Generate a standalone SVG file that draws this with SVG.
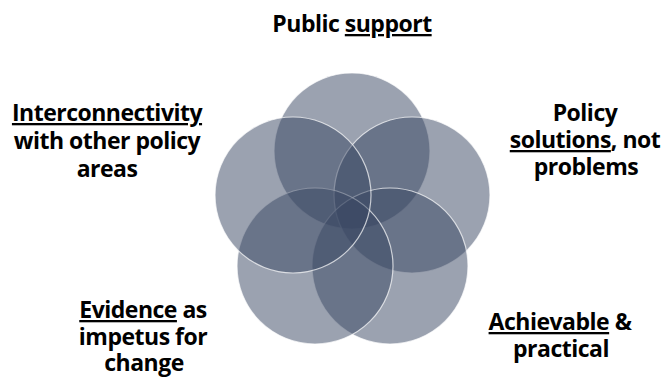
<svg xmlns="http://www.w3.org/2000/svg" width="665" height="378" viewBox="0 0 665 378">
  <style>
    .ring { fill: #374561; fill-opacity: 0.5; stroke: #ffffff; stroke-opacity: 0.7; stroke-width: 1.2; }
    .label { font-family: "Open Sans", "Noto Sans", "Liberation Sans", sans-serif; font-weight: bold; font-size: 23px; letter-spacing: -0.5px; fill: #000000; text-anchor: middle; }
    .u { text-decoration: underline; }
  </style>
  <rect width="665" height="378" fill="#ffffff"/>

  <!-- five overlapping circles arranged as a pentagon -->
  <g id="circle-top"><circle class="ring" cx="352" cy="151" r="78"/></g>
  <g id="circle-right"><circle class="ring" cx="412" cy="195" r="78"/></g>
  <g id="circle-bottom-right"><circle class="ring" cx="390" cy="266" r="78"/></g>
  <g id="circle-bottom-left"><circle class="ring" cx="315" cy="266" r="78"/></g>
  <g id="circle-left"><circle class="ring" cx="293" cy="195" r="78"/></g>

  <g id="connectors"></g>

  <g id="label-public-support">
    <text class="label" x="352" y="32">Public <tspan class="u">support</tspan></text>
  </g>
  <g id="label-interconnectivity">
    <text class="label" x="107" y="121"><tspan class="u">Interconnectivity</tspan></text>
    <text class="label" x="107" y="149">with other policy</text>
    <text class="label" x="107" y="177">areas</text>
  </g>
  <g id="label-policy-solutions">
    <text class="label" x="585" y="121">Policy</text>
    <text class="label" x="585" y="148"><tspan class="u">solutions</tspan>, not</text>
    <text class="label" x="586" y="175">problems</text>
  </g>
  <g id="label-evidence">
    <text class="label" x="143" y="318"><tspan class="u">Evidence</tspan> as</text>
    <text class="label" x="143" y="345">impetus for</text>
    <text class="label" x="144" y="371">change</text>
  </g>
  <g id="label-achievable">
    <text class="label" x="560" y="330"><tspan class="u">Achievable</tspan> &amp;</text>
    <text class="label" x="561" y="357">practical</text>
  </g>
</svg>
